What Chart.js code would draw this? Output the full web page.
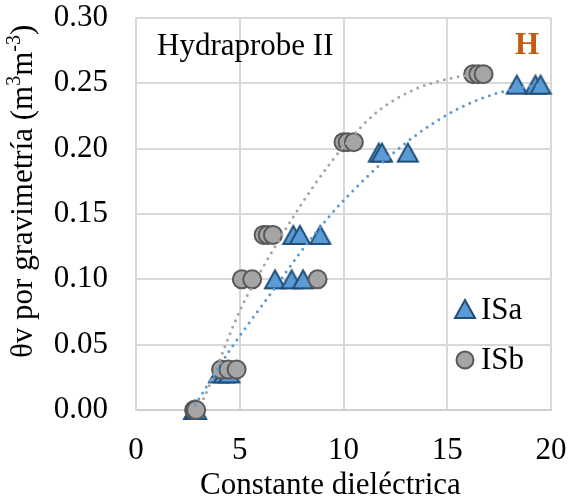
<!DOCTYPE html>
<html><head><meta charset="utf-8">
<script src="https://cdn.jsdelivr.net/npm/chart.js@4.4.1/dist/chart.umd.min.js"></script>
<style>html,body{margin:0;padding:0;background:#fff}canvas{display:block}</style>
</head><body>
<canvas id="c" width="578" height="502"></canvas>
<script>
// ---- data ----
const isaX = [2.8, 2.85, 2.9, 4.0, 4.25, 4.5, 6.7, 7.5, 8.05, 7.58, 7.9, 8.88, 11.7, 11.85, 13.1, 18.35, 19.25, 19.5];
const isaY = [0, 0, 0, 0.028, 0.028, 0.028, 0.10, 0.10, 0.10, 0.134, 0.134, 0.134, 0.197, 0.197, 0.197, 0.249, 0.249, 0.249];
const isbX = [2.8, 2.85, 2.9, 4.1, 4.45, 4.85, 5.1, 5.6, 8.75, 6.15, 6.35, 6.6, 10.0, 10.2, 10.5, 16.25, 16.5, 16.75];
const isbY = [0, 0, 0, 0.031, 0.031, 0.031, 0.100, 0.100, 0.100, 0.134, 0.134, 0.134, 0.205, 0.205, 0.205, 0.257, 0.257, 0.257];
// dotted trend curves
const trendBX = [2.85, 3.57, 5.02, 6.22, 7.59, 8.72, 10.0, 11.61, 13.38, 14.82, 15.79, 16.6];
const trendBY = [-0.006, 0.020, 0.0765, 0.112, 0.148, 0.175, 0.2015, 0.228, 0.245, 0.2526, 0.2556, 0.2565];
const trendAX = [2.85, 4.53, 5.5, 6.62, 7.75, 9.36, 10.97, 12.58, 14.18, 15.79, 17.4, 18.5, 19.5];
const trendAY = [0.004, 0.046, 0.0676, 0.0918, 0.117, 0.149, 0.176, 0.199, 0.218, 0.2326, 0.2424, 0.2465, 0.2490];
const xTicks = [0, 5, 10, 15, 20];
const yTicks = [0, 0.05, 0.10, 0.15, 0.20, 0.25, 0.30];
const seriesNames = ['ISa', 'ISb'];
const panelTitle = 'Hydraprobe II';
const panelTag = 'H';
const xTitle = 'Constante dieléctrica';

const FONT = '"Liberation Serif", "Times New Roman", serif';
const pts = (xs, ys) => xs.map((x, i) => ({x, y: ys[i]}));

function triImg() {
  const c = document.createElement('canvas');
  c.width = 24; c.height = 24;
  const g = c.getContext('2d');
  g.beginPath(); g.moveTo(12, 3); g.lineTo(22, 21); g.lineTo(2, 21); g.closePath();
  g.fillStyle = '#5B9BD5'; g.fill();
  g.lineWidth = 2; g.strokeStyle = '#1F4E79'; g.lineJoin = 'miter'; g.stroke();
  return c;
}
const tri = triImg();

const overlay = {
  id: 'overlay',
  afterDraw(chart) {
    const ctx = chart.ctx;
    ctx.save();
    ctx.fillStyle = '#000';
    ctx.textBaseline = 'alphabetic';
    ctx.textAlign = 'left';
    ctx.font = '31px ' + FONT;
    ctx.fillText(panelTitle, 157, 55);
    ctx.fillText(xTitle, 200, 494);
    ctx.fillStyle = '#C55A11';
    ctx.font = 'bold 31px ' + FONT;
    ctx.fillText(panelTag, 515, 54);
    // legend
    ctx.drawImage(tri, 453, 297);
    ctx.beginPath(); ctx.arc(465, 360, 8.5, 0, Math.PI * 2);
    ctx.fillStyle = '#A5A5A5'; ctx.fill();
    ctx.lineWidth = 2; ctx.strokeStyle = '#595959'; ctx.stroke();
    ctx.fillStyle = '#000';
    ctx.font = '31px ' + FONT;
    ctx.fillText(seriesNames[0], 481, 319);
    ctx.fillText(seriesNames[1], 481, 369);
    // y title with superscripts
    ctx.translate(32, 358);
    ctx.rotate(-Math.PI / 2);
    const parts = [['θv por gravimetría (m', 0], ['3', 1], ['m', 0], ['-3', 1], [')', 0]];
    let x = 0;
    for (const [t, s] of parts) {
      ctx.font = (s ? '20px ' : '31px ') + FONT;
      ctx.fillText(t, x, s ? -12 : 0);
      x += ctx.measureText(t).width;
    }
    ctx.restore();
  }
};

new Chart(document.getElementById('c'), {
  type: 'scatter',
  data: {
    datasets: [
      {label: 'trendISb', data: pts(trendBX, trendBY), showLine: true, borderColor: '#A5A5A5', borderWidth: 3,
       borderDash: [0, 7], borderCapStyle: 'round', pointRadius: 0, cubicInterpolationMode: 'monotone', fill: false},
      {label: 'trendISa', data: pts(trendAX, trendAY), showLine: true, borderColor: '#5B9BD5', borderWidth: 3,
       borderDash: [0, 7], borderCapStyle: 'round', pointRadius: 0, cubicInterpolationMode: 'monotone', fill: false},
      {label: seriesNames[1], data: pts(isbX, isbY), pointStyle: 'circle', pointRadius: 9, borderWidth: 2,
       backgroundColor: '#A5A5A5', borderColor: '#595959', clip: false},
      {label: seriesNames[0], data: pts(isaX, isaY), pointStyle: tri, pointRadius: 11, clip: false}
    ]
  },
  options: {
    responsive: false,
    animation: false,
    layout: {padding: {left: 0, top: 18, right: 27, bottom: 0}},
    plugins: {legend: {display: false}, tooltip: {enabled: false}},
    scales: {
      x: {
        type: 'linear', min: 0, max: 20,
        afterBuildTicks: s => { s.ticks = xTicks.map(v => ({value: v})); },
        ticks: {font: {family: FONT, size: 31}, color: '#000', padding: 22, maxRotation: 0},
        grid: {color: '#D9D9D9', lineWidth: 2, drawTicks: false},
        border: {color: '#D0D0D0', width: 2},
        afterFit: s => { s.height = 92; s.paddingLeft = 0; s.paddingRight = 0; }
      },
      y: {
        type: 'linear', min: 0, max: 0.30,
        afterBuildTicks: s => { s.ticks = yTicks.map(v => ({value: v})); },
        ticks: {font: {family: FONT, size: 31}, color: '#000', padding: 28, callback: v => Number(v).toFixed(2)},
        grid: {color: '#D9D9D9', lineWidth: 2, drawTicks: false},
        border: {color: '#D9D9D9', width: 2},
        afterFit: s => { s.width = 136; s.paddingTop = 0; s.paddingBottom = 0; }
      }
    }
  },
  plugins: [overlay]
});
</script>
</body></html>
